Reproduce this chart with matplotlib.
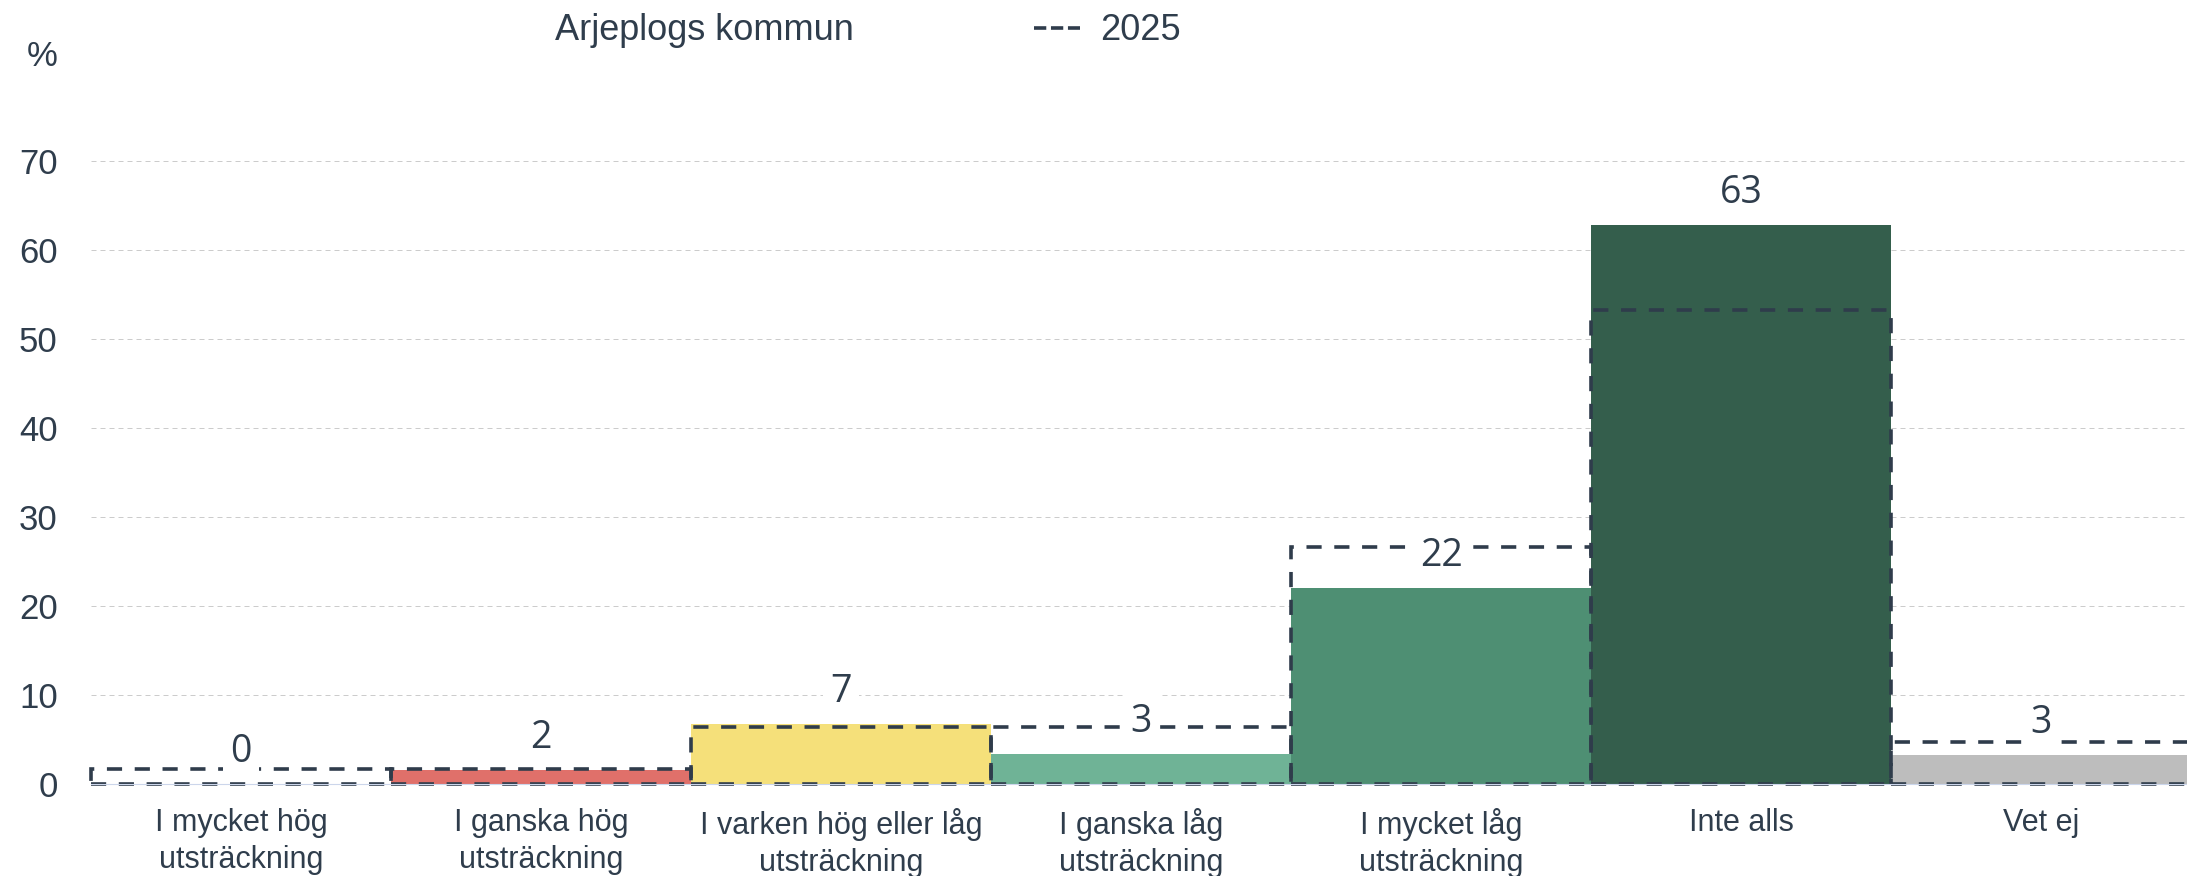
import matplotlib
matplotlib.use("Agg")
import matplotlib.pyplot as plt
from matplotlib.lines import Line2D
from matplotlib.patches import Patch

# Data
categories = [
    "I mycket hög\nutsträckning",
    "I ganska hög\nutsträckning",
    "I varken hög eller låg\nutsträckning",
    "I ganska låg\nutsträckning",
    "I mycket låg\nutsträckning",
    "Inte alls",
    "Vet ej",
]
kommun_values = [0, 1.6, 6.7, 3.4, 22.0, 62.8, 3.3]
values_2025 = [1.7, 1.7, 6.4, 6.4, 26.6, 53.3, 4.7]
bar_colors = ["#ffffff", "#e0706a", "#f5e07a", "#6fb396", "#4e8f73", "#345e4c", "#bdbdbd"]
series_names = ["Arjeplogs kommun", "2025"]
y_ticks = [0, 10, 20, 30, 40, 50, 60, 70]

TEXT = "#2f3d4c"
DASH = "#2f3c4b"

plt.rcParams["font.family"] = ["Liberation Sans", "DejaVu Sans"]

fig = plt.figure(figsize=(21.87, 8.76), dpi=100)
ax = fig.add_axes([91 / 2187, 92 / 876, 2100 / 2187, 623 / 876])

x = list(range(len(categories)))

# kommun-staplar
ax.bar(x, kommun_values, width=1.0, color=bar_colors, edgecolor="none", zorder=2)

# 2025 som streckade ramar
ax.bar(x, values_2025, width=1.0, facecolor="none", edgecolor=DASH,
       linewidth=2.6, linestyle=(0, (4.2, 3.5)), zorder=3, clip_on=False)

ax.axhline(0, color="#ccd6eb", lw=0.8, zorder=4, clip_on=False)

# datalabels
for xi, v in zip(x, kommun_values):
    ax.annotate(str(int(round(v))), xy=(xi, v), xytext=(0, 15.8),
                textcoords="offset points", ha="center", va="baseline",
                fontsize=27, fontweight="medium",
                family=["Open Sans", "DejaVu Sans"], color=TEXT,
                bbox=dict(boxstyle="square,pad=0.2", fc="white", ec="none"),
                zorder=6, annotation_clip=False)

ax.set_xlim(-0.5, 6.5)
ax.set_ylim(0, 70)
ax.set_yticks(y_ticks)
ax.set_xticks(x)
ax.set_xticklabels(categories, fontsize=22, color=TEXT, linespacing=1.32)
ax.tick_params(axis="x", length=0, pad=17)
ax.tick_params(axis="y", length=0, pad=24, labelsize=25, labelcolor=TEXT)

ax.yaxis.grid(True, color="#cccccc", lw=0.72, linestyle=(0, (5, 4)), zorder=0)
ax.set_axisbelow(True)
for s in ax.spines.values():
    s.set_visible(False)

fig.text(42 / 2187, 1 - 56 / 876, "%", ha="center", va="center",
         fontsize=25, color=TEXT)

handles = [
    Patch(facecolor="none", edgecolor="none"),
    Line2D([], [], color=DASH, lw=2.6, linestyle=(0, (3.4, 1.3))),
]
fig.legend(handles, series_names, ncol=2, loc="center left",
           bbox_to_anchor=(489 / 2187, 1 - 31 / 876), frameon=False,
           fontsize=26, labelcolor=TEXT, handlelength=1.27,
           handletextpad=0.55, columnspacing=5.0, borderpad=0,
           borderaxespad=0)

fig.savefig("out.png", dpi=100)
